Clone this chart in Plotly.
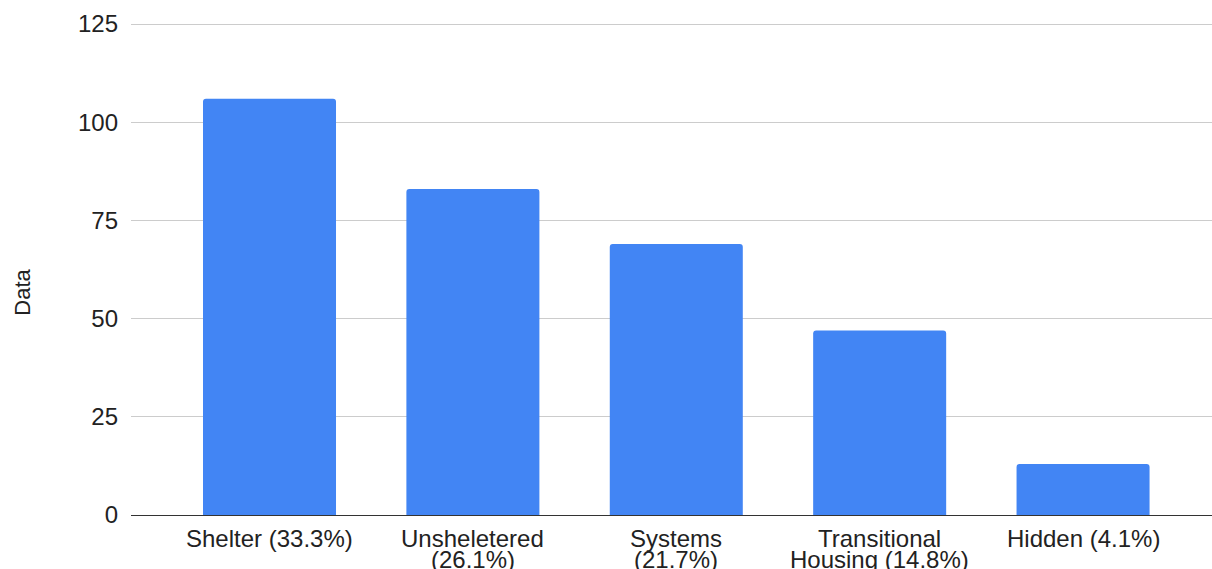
import plotly.graph_objects as go

categories = ["Shelter (33.3%)", "Unsheletered<br>(26.1%)", "Systems<br>(21.7%)",
              "Transitional<br>Housing (14.8%)", "Hidden (4.1%)"]
values = [106, 83, 69, 47, 13]
y_ticks = [0, 25, 50, 75, 100, 125]
y_title = "Data"

W, H = 1212, 569
L, R, T, B = 131, 0, 20, 54
PH = H - T - B
TXT = "#222222"
font = "Liberation Sans, Arial, sans-serif"
Y_TOP = 125 + (24 - T) * 125 / (H - B - 24)   # keeps 125 on pixel row 24


def py(pix):
    """pixel row -> paper y"""
    return (H - B - pix) / PH


fig = go.Figure(go.Bar(
    x=list(range(len(categories))), y=values,
    marker=dict(color="#4285F4", line=dict(width=0)),
    width=0.654,
))

annotations = []
line_tops = [522.5, 543.5]
for i, cat in enumerate(categories):
    for j, part in enumerate(cat.split("<br>")):
        annotations.append(dict(
            text=part, x=i, xref="x", y=py(line_tops[j]), yref="paper",
            xanchor="center", yanchor="top", showarrow=False,
            font=dict(size=24, color=TXT, family=font),
        ))
annotations.append(dict(
    text=y_title, xref="paper", yref="paper",
    x=(21.7 - L) / (W - L - R), y=py(292),
    showarrow=False, textangle=-90, font=dict(size=22, color=TXT, family=font),
    xanchor="center", yanchor="middle",
))

fig.update_layout(
    width=W, height=H,
    margin=dict(l=L, r=R, t=T, b=B, pad=0),
    paper_bgcolor="white", plot_bgcolor="white",
    barcornerradius=3,
    showlegend=False,
    font=dict(family=font, size=24, color=TXT),
    xaxis=dict(
        range=[-0.681, 4.634], showgrid=False, zeroline=False,
        showline=True, linecolor="#333333", linewidth=1,
        showticklabels=False, ticks="", automargin=False,
    ),
    yaxis=dict(
        range=[0, Y_TOP], tickmode="array", tickvals=y_ticks,
        showgrid=True, gridcolor="#cccccc", gridwidth=1, zeroline=False,
        ticks="", tickfont=dict(size=24, color=TXT),
        ticklabelstandoff=12, automargin=False,
    ),
    annotations=annotations,
)

fig.write_html("out.html")
